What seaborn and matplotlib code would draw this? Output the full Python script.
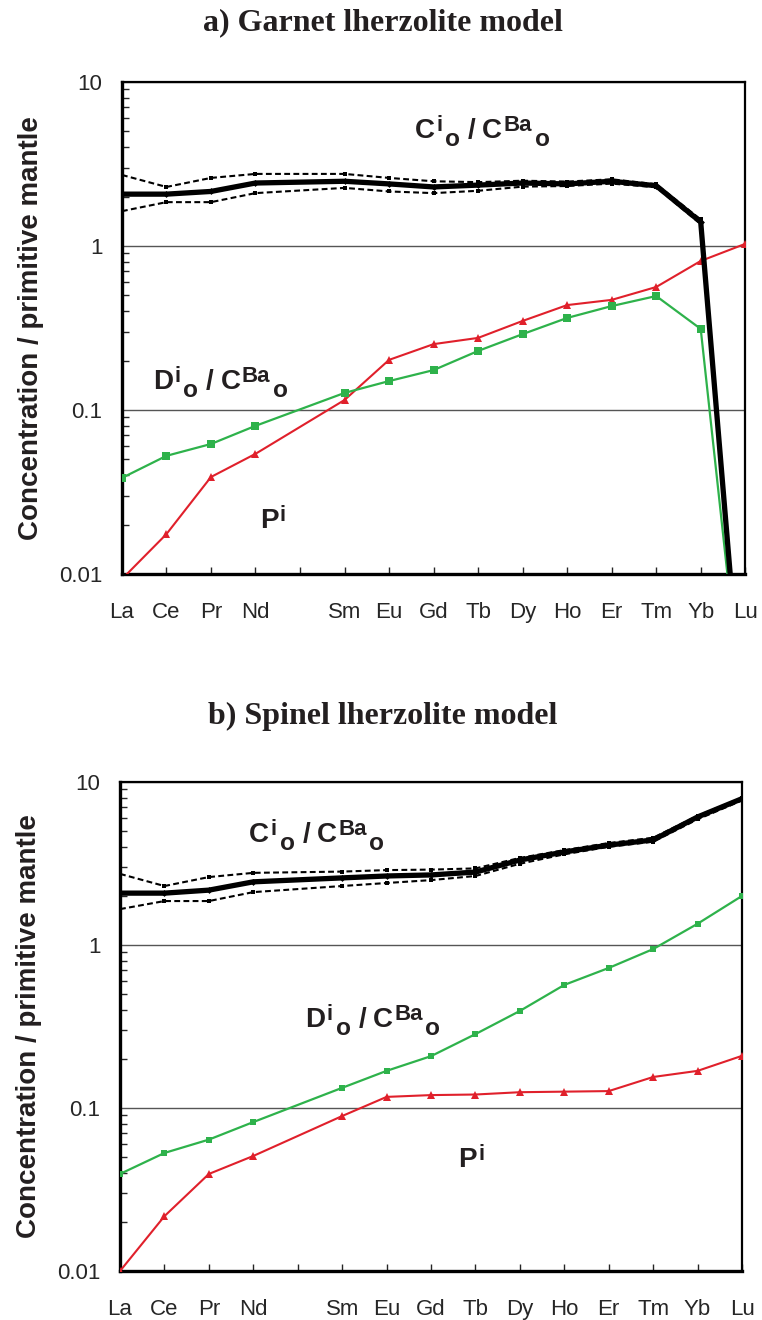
import numpy as np
import pandas as pd
import matplotlib
matplotlib.use("Agg")
import matplotlib.pyplot as plt
import matplotlib.ticker as mticker
from matplotlib.transforms import offset_copy
import seaborn as sns

# ---------------- data ----------------
tick_labels = ['La', 'Ce', 'Pr', 'Nd', '', 'Sm', 'Eu', 'Gd', 'Tb', 'Dy', 'Ho', 'Er', 'Tm', 'Yb', 'Lu']
elements = ['La', 'Ce', 'Pr', 'Nd', 'Sm', 'Eu', 'Gd', 'Tb', 'Dy', 'Ho', 'Er', 'Tm', 'Yb', 'Lu']

# a) Garnet lherzolite
a_c_mid = [2.07, 2.07, 2.15, 2.42, 2.48, 2.39, 2.29, 2.35, 2.42, 2.39, 2.48, 2.33, 1.40, 0.0008]
a_c_up = [2.71, 2.29, 2.60, 2.75, 2.75, 2.60, 2.48, 2.45, 2.50, 2.47, 2.55, 2.38, 1.45, 0.0008]
a_c_lo = [1.63, 1.85, 1.85, 2.10, 2.26, 2.15, 2.10, 2.17, 2.30, 2.32, 2.40, 2.28, 1.36, 0.0008]
a_d = [0.0385, 0.0525, 0.062, 0.080, 0.127, 0.150, 0.175, 0.229, 0.290, 0.364, 0.43, 0.495, 0.312, 0.001]
a_p = [0.0093, 0.0175, 0.039, 0.054, 0.115, 0.202, 0.252, 0.275, 0.349, 0.436, 0.469, 0.562, 0.81, 1.03]

# b) Spinel lherzolite
b_c_mid = [2.08, 2.08, 2.17, 2.44, 2.58, 2.65, 2.69, 2.80, 3.32, 3.72, 4.10, 4.41, 6.1, 7.9]
b_c_up = [2.73, 2.30, 2.61, 2.77, 2.82, 2.88, 2.90, 2.95, 3.42, 3.82, 4.22, 4.55, 6.2, 8.0]
b_c_lo = [1.66, 1.86, 1.86, 2.11, 2.30, 2.40, 2.50, 2.65, 3.15, 3.60, 4.00, 4.30, 5.9, 7.7]
b_d = [0.0394, 0.053, 0.064, 0.082, 0.133, 0.169, 0.208, 0.284, 0.394, 0.569, 0.723, 0.944, 1.35, 2.0]
b_p = [0.0100, 0.0217, 0.0394, 0.0508, 0.0893, 0.117, 0.120, 0.121, 0.125, 0.126, 0.127, 0.155, 0.169, 0.209]

y_ticks = [0.01, 0.1, 1, 10]
y_tick_labels = ['0.01', '0.1', '1', '10']

titles = ['a) Garnet lherzolite model', 'b) Spinel lherzolite model']
ylabel = 'Concentration / primitive mantle'

# label pieces: (text, kind) kind: 'b' base, 'sup', 'sub', 'sep'
c_label = [('C', 'b'), ('i', 'sup'), ('o', 'sub'), ('/', 'sep'), ('C', 'b'), ('Ba', 'sup'), ('o', 'sub')]
d_label = [('D', 'b'), ('i', 'sup'), ('o', 'sub'), ('/', 'sep'), ('C', 'b'), ('Ba', 'sup'), ('o', 'sub')]
p_label = [('P', 'b'), ('i', 'sup')]

# ---------------- style ----------------
sns.set_style("white")
plt.rcParams['font.family'] = ['Liberation Sans', 'DejaVu Sans']

RED = '#e0202b'
GREEN = '#2eb24b'
TXT = '#231f20'

fig = plt.figure(figsize=(7.62, 13.2), dpi=100)
ax_a = fig.add_axes([0.160, 0.5652, 0.818, 0.3727])
ax_b = fig.add_axes([0.1575, 0.0371, 0.8163, 0.3705])
renderer = fig.canvas.get_renderer()

xpos = [tick_labels.index(e) for e in elements]


def script_text(ax, x, y, pieces, fs=20):
    """Draw text with raised / lowered scripts placed one after another,
    left/baseline anchored at data point (x, y)."""
    px = fs * fig.dpi / 72.0
    scale = {'b': 1.0, 'sep': 1.0, 'sup': 0.8, 'sub': 0.88}
    shift = {'b': 0, 'sep': 0, 'sup': 0.26 * px, 'sub': -0.29 * px}
    pre = {'b': 0, 'sep': 0.28 * px, 'sup': 0.05 * px, 'sub': 0.10 * px}
    post = {'b': 0, 'sep': 0.24 * px, 'sup': 0, 'sub': 0}
    cursor = 0.0
    for s, kind in pieces:
        cursor += pre[kind]
        tr = offset_copy(ax.transData, fig=fig, x=cursor, y=shift[kind], units='dots')
        t = ax.text(x, y, s, transform=tr, fontsize=fs * scale[kind], fontweight='bold',
                    color=TXT, ha='left', va='baseline', zorder=6)
        cursor += t.get_window_extent(renderer).width + post[kind]


def draw(ax, c_mid, c_up, c_lo, d, p, title, title_y, labels, big_green):
    df = pd.DataFrame({'x': xpos, 'mid': c_mid, 'up': c_up, 'lo': c_lo, 'd': d, 'p': p})
    sns.lineplot(data=df, x='x', y='p', ax=ax, color=RED, linewidth=1.5,
                 marker='^', markersize=5.5, markeredgewidth=0, zorder=3)
    sns.lineplot(data=df, x='x', y='d', ax=ax, color=GREEN, linewidth=1.6,
                 marker='s', markersize=5.5 if big_green else 4.5, markeredgewidth=0, zorder=3)
    for col in ['up', 'lo']:
        sns.lineplot(data=df, x='x', y=col, ax=ax, color='black', linewidth=1.5,
                     linestyle=(0, (2.8, 1.6)), marker='s', markersize=3.5,
                     markeredgewidth=0, zorder=4)
    sns.lineplot(data=df, x='x', y='mid', ax=ax, color='black', linewidth=3.8,
                 marker='D', markersize=3.5, markeredgewidth=0, zorder=5)

    ax.set_yscale('log')
    ax.set_ylim(0.01, 10)
    ax.set_xlim(0, 14)
    ax.set_xticks(range(len(tick_labels)))
    ax.set_xticklabels(tick_labels)
    ax.yaxis.set_major_locator(mticker.FixedLocator(y_ticks))
    ax.yaxis.set_major_formatter(mticker.FixedFormatter(y_tick_labels))
    ax.yaxis.set_minor_locator(mticker.LogLocator(base=10, subs=np.arange(2, 10)))
    ax.yaxis.set_minor_formatter(mticker.NullFormatter())
    ax.tick_params(axis='y', which='major', direction='in', length=0, labelsize=16, pad=14)
    ax.tick_params(axis='y', which='minor', direction='in', length=5, width=1, left=True)
    ax.tick_params(axis='x', which='major', direction='in', length=5, width=1,
                   bottom=True, labelsize=16, pad=20)
    ax.yaxis.grid(True, which='major', color='#555555', linewidth=1.0)
    ax.set_axisbelow(True)
    for s in ['left', 'bottom']:
        ax.spines[s].set_linewidth(2.4)
        ax.spines[s].set_color('black')
    for s in ['top', 'right']:
        ax.spines[s].set_linewidth(1.6)
        ax.spines[s].set_color('black')
    ax.set_xlabel('')
    ax.set_ylabel(ylabel, fontsize=20, fontweight='bold', labelpad=11, color=TXT)
    fig.text(0.502, title_y, title, ha='center', va='center',
             family=['Liberation Serif'], fontweight='bold', fontsize=23, color=TXT)

    for (lx, ly), pieces in zip(labels, [c_label, d_label, p_label]):
        script_text(ax, lx, ly, pieces)


draw(ax_a, a_c_mid, a_c_up, a_c_lo, a_d, a_p, titles[0], 0.983,
     [(6.58, 4.56), (0.70, 0.134), (3.10, 0.0190)], True)
draw(ax_b, b_c_mid, b_c_up, b_c_lo, b_d, b_p, titles[1], 0.457,
     [(2.91, 4.28), (4.17, 0.314), (7.61, 0.0435)], False)

fig.savefig('out.png', dpi=100)
